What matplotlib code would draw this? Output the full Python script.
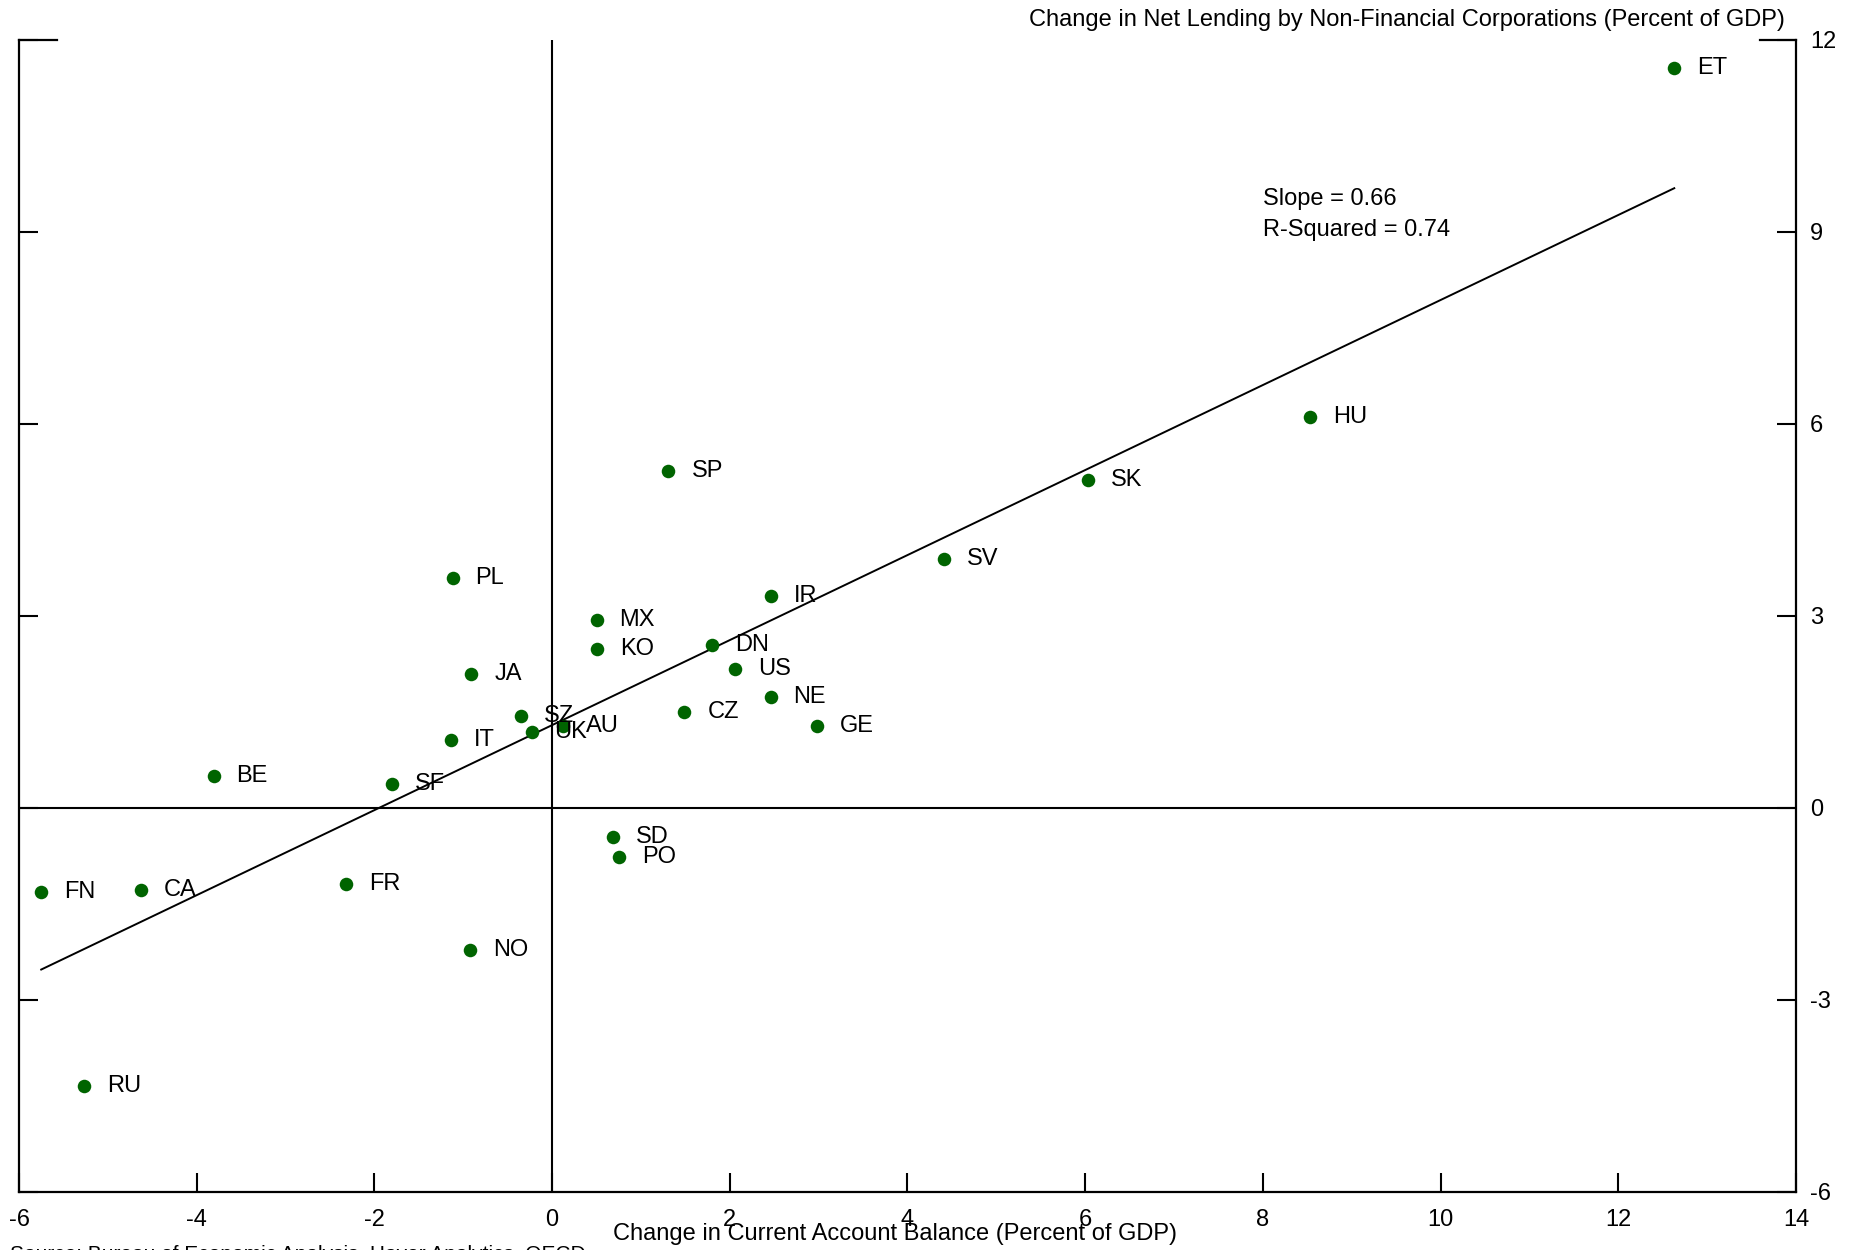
#!/usr/bin/env python3
# -*- coding: utf-8 -*-

import numpy as np
import matplotlib
matplotlib.use("Agg")
import matplotlib.pyplot as plt

plt.rcParams['font.family'] = ['Liberation Sans', 'DejaVu Sans']
plt.rcParams['axes.unicode_minus'] = False
fig_fontsize = 17
plt.rcParams['font.size'] = fig_fontsize

# country codes and values
countries = ['ET', 'HU', 'SK', 'SV', 'SP', 'IR', 'PL', 'MX', 'KO', 'DN',
             'US', 'JA', 'NE', 'CZ', 'GE', 'SZ', 'AU', 'UK', 'IT', 'BE',
             'SF', 'SD', 'PO', 'FR', 'CA', 'FN', 'NO', 'RU']
ca_change = [12.63, 8.53, 6.03, 4.41, 1.31, 2.46, -1.12, 0.50, 0.51, 1.80,
             2.06, -0.91, 2.46, 1.49, 2.98, -0.35, 0.12, -0.23, -1.14, -3.81,
             -1.80, 0.68, 0.75, -2.32, -4.63, -5.75, -0.92, -5.27]
nfc_change = [11.56, 6.11, 5.13, 3.89, 5.26, 3.32, 3.59, 2.93, 2.48, 2.55,
              2.17, 2.10, 1.74, 1.50, 1.28, 1.43, 1.28, 1.18, 1.06, 0.50,
              0.37, -0.46, -0.76, -1.19, -1.28, -1.31, -2.22, -4.35]

x_ticks = [-6, -4, -2, 0, 2, 4, 6, 8, 10, 12, 14]
y_ticks = [-6, -3, 0, 3, 6, 9, 12]

x = np.array(ca_change)
y = np.array(nfc_change)
slope, intercept = np.polyfit(x, y, 1)

fig = plt.figure(figsize=(18.58, 12.5), dpi=100)
ax = fig.add_axes([19 / 1858, 1 - 1192 / 1250, (1796 - 19) / 1858, (1192 - 40) / 1250])

ax.axhline(0, color='black', lw=1.5, zorder=1)
ax.axvline(0, color='black', lw=1.5, zorder=1)

xs = np.array([x.min(), x.max()])
ax.plot(xs, slope * xs + intercept, color='black', lw=1.4, zorder=2)

ax.scatter(x, y, s=95, color='#006400', zorder=3, linewidths=0)
for name, xi, yi in zip(countries, ca_change, nfc_change):
    ax.annotate(name, (xi, yi), xytext=(16.5, 0), textcoords='offset points',
                va='center', ha='left', fontsize=fig_fontsize, zorder=4)

ax.text(8, 9.27, 'Slope = 0.66\nR-Squared = 0.74', va='center', ha='left',
        fontsize=fig_fontsize, linespacing=1.55)

ax.set_xlim(-6, 14)
ax.set_ylim(-6, 12)
ax.set_xticks(x_ticks)
ax.set_yticks(y_ticks)
ax.spines['top'].set_visible(False)
for s in ['left', 'right', 'bottom']:
    ax.spines[s].set_linewidth(1.6)
ax.tick_params(axis='both', direction='in', length=13.5, width=1.5, labelsize=fig_fontsize)
ax.tick_params(axis='x', pad=12)
ax.tick_params(axis='y', left=True, right=True, labelleft=False, labelright=True, pad=10)

# short segments at the top corners
ax.plot([0, 0.0215], [1, 1], transform=ax.transAxes, color='black', lw=1.6, clip_on=False)
ax.plot([0.98, 1], [1, 1], transform=ax.transAxes, color='black', lw=1.6, clip_on=False)

fig.text(1785 / 1858, 1 - 20 / 1250, 'Change in Net Lending by Non-Financial Corporations (Percent of GDP)',
         ha='right', va='center', fontsize=fig_fontsize)
fig.text(895 / 1858, 1 - 1234 / 1250, 'Change in Current Account Balance (Percent of GDP)',
         ha='center', va='center', fontsize=fig_fontsize)
fig.text(10 / 1858, 1 - 1245 / 1250, 'Source: Bureau of Economic Analysis, Haver Analytics, OECD',
         ha='left', va='top', fontsize=15)

plt.savefig('out.png', dpi=100)
